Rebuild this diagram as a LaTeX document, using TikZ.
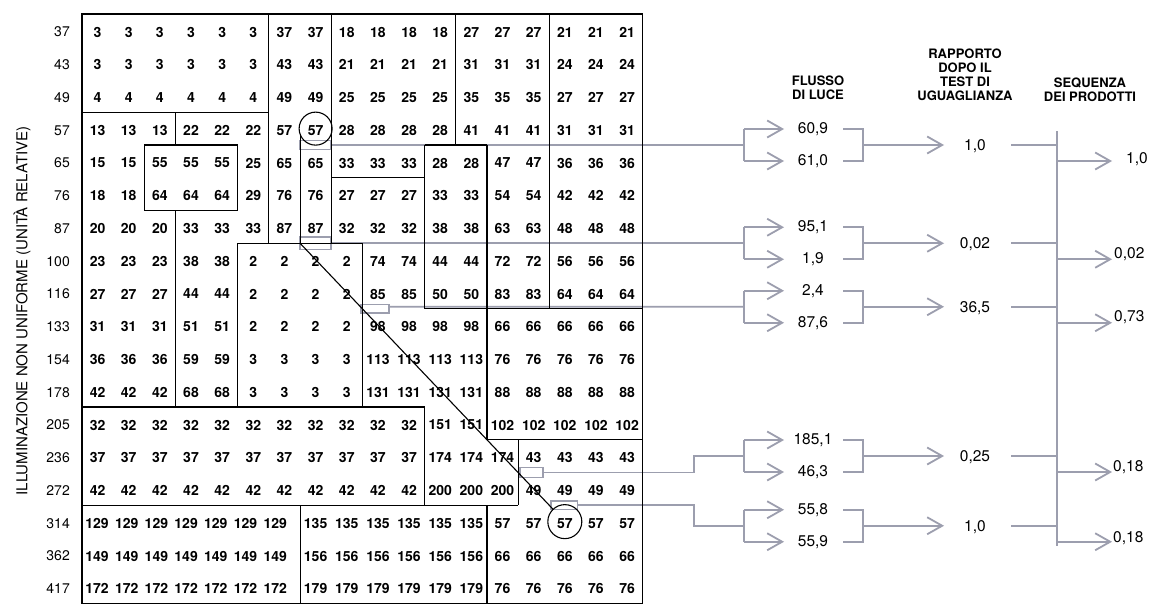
\documentclass[tikz,border=0pt]{standalone}
\usepackage{fontspec}
\setmainfont{TeX Gyre Heros}
\usetikzlibrary{arrows.meta}
\definecolor{probegray}{RGB}{156,158,174}
\begin{document}
\begin{tikzpicture}[x=1pt,y=-1pt,
  num/.style={font=\fontsize{14}{16}\selectfont\bfseries,inner sep=0pt},
  rowlab/.style={font=\fontsize{14}{16}\selectfont,inner sep=0pt,anchor=east},
  flow/.style={font=\fontsize{15.5}{17}\selectfont,inner sep=0pt},
  hdr/.style={font=\fontsize{13}{14}\selectfont\bfseries,align=center,inner sep=0pt},
  ylab/.style={font=\fontsize{15}{17}\selectfont,inner sep=0pt,rotate=90},
  gridline/.style={line width=1.1pt,black},
  probe/.style={draw=probegray,line width=1.5pt},
  gline/.style={draw=probegray,line width=1.8pt},
  garrow/.style={gline,-{Straight Barb[length=15pt,width=17pt]}},
  ring/.style={circle,draw,line width=1.1pt,inner sep=0pt},
]
\useasboundingbox (0,0) rectangle (1158,606);
\fill[white] (0,0) rectangle (1158,606);

% ---------- probes (grid coordinates) ----------
\begin{scope}[shift={(82,14)},x=31.15pt,y=-32.75pt]
  \coordinate (p1) at (8,4);
  \coordinate (p2) at (8,7);
  \coordinate (p3) at (9.85,8.939);
  \coordinate (p4) at (14.8,14);
  \coordinate (p5) at (15.9,15);
  \draw[probe] (7,3.86) rectangle (8,4.14);
  \draw[probe] (7,6.81) rectangle (8,7.19);
  \draw[probe] (8.95,8.87) rectangle (9.85,9.13);
  \draw[probe] (14.06,13.85) rectangle (14.8,14.15);
  \draw[probe] (15.06,14.87) rectangle (15.9,15.13);
\end{scope}

% ---------- flow diagram ----------
\foreach \k/\M/\fa/\fb/\ra/\sq/\sx/\sy in {
  1/145/{60,9}/{61,0}/{1,0}/{1,0}/1126/14,
  2/243.25/{95,1}/{1,9}/{0,02}/{0,02}/1114/11,
  3/306.75/{2,4}/{87,6}/{36,5}/{0,73}/1114/10,
  4/456/{185,1}/{46,3}/{0,25}/{0,18}/1113/11,
  5/525.75/{55,8}/{55,9}/{1,0}/{0,18}/1113/12}{
  \coordinate (b\k) at (744,\M);
  \coordinate (bt\k) at (744,\M-16);
  \coordinate (bb\k) at (744,\M+16);
  \coordinate (at\k) at (784,\M-16);
  \coordinate (ab\k) at (784,\M+16);
  \draw[gline] (bt\k) -- (bb\k);
  \draw[garrow] (bt\k) -- (at\k);
  \draw[garrow] (bb\k) -- (ab\k);
  \node[flow] (fa\k) at (813,\M-16) {\fa};
  \node[flow] (fb\k) at (813,\M+16) {\fb};
  \coordinate (rt\k) at (843,\M-16);
  \coordinate (rb\k) at (843,\M+16);
  \coordinate (rm\k) at (863,\M);
  \draw[gline] (rt\k) -- (rt\k -| rm\k) -- (rb\k -| rm\k) -- (rb\k);
  \coordinate (rr\k) at (944,\M);
  \draw[garrow] (rm\k) -- (rr\k);
  \node[flow] (r\k) at (975,\M+1) {\ra};
  \coordinate (ri\k) at (1011,\M);
  \coordinate (si\k) at (1057,\M);
  \draw[gline] (ri\k) -- (si\k);
  \coordinate (so\k) at (1057,\M+16);
  \coordinate (st\k) at (1112,\M+16);
  \draw[garrow] (so\k) -- (st\k);
  \node[flow,anchor=west] (s\k) at (\sx,\M+\sy) {\sq};
}
\coordinate (sv0) at (1057,131);
\coordinate (sv1) at (1057,546);
\draw[gline] (sv0) -- (sv1);

% tails from probes to the brackets
\coordinate (stepx) at (694,0);
\draw[gline] (p1) -- (b1);
\draw[gline] (p2) -- (b2);
\draw[gline] (p3) -- (b3);
\draw[gline] (p4) -- (p4 -| stepx) -- (b4 -| stepx) -- (b4);
\draw[gline] (p5) -- (p5 -| stepx) -- (b5 -| stepx) -- (b5);

% ---------- table ----------
\begin{scope}[shift={(82,14)},x=31.15pt,y=-32.75pt]
  \foreach \r/\v in {1/37,2/43,3/49,4/57,5/65,6/76,7/87,8/100,9/116,10/133,
      11/154,12/178,13/205,14/236,15/272,16/314,17/362,18/417}
    \node[rowlab] (rl\r) at (-0.385,\r-0.45) {\v};
  \foreach \r/\vals in {
    1/{3,3,3,3,3,3,37,37,18,18,18,18,27,27,27,21,21,21},
    2/{3,3,3,3,3,3,43,43,21,21,21,21,31,31,31,24,24,24},
    3/{4,4,4,4,4,4,49,49,25,25,25,25,35,35,35,27,27,27},
    4/{13,13,13,22,22,22,57,57,28,28,28,28,41,41,41,31,31,31},
    5/{15,15,55,55,55,25,65,65,33,33,33,28,28,47,47,36,36,36},
    6/{18,18,64,64,64,29,76,76,27,27,27,33,33,54,54,42,42,42},
    7/{20,20,20,33,33,33,87,87,32,32,32,38,38,63,63,48,48,48},
    8/{23,23,23,38,38,2,2,2,2,74,74,44,44,72,72,56,56,56},
    9/{27,27,27,44,44,2,2,2,2,85,85,50,50,83,83,64,64,64},
    10/{31,31,31,51,51,2,2,2,2,98,98,98,98,66,66,66,66,66},
    11/{36,36,36,59,59,3,3,3,3,113,113,113,113,76,76,76,76,76},
    12/{42,42,42,68,68,3,3,3,3,131,131,131,131,88,88,88,88,88},
    13/{32,32,32,32,32,32,32,32,32,32,32,151,151,102,102,102,102,102},
    14/{37,37,37,37,37,37,37,37,37,37,37,174,174,174,43,43,43,43},
    15/{42,42,42,42,42,42,42,42,42,42,42,200,200,200,49,49,49,49},
    16/{129,129,129,129,129,129,129,135,135,135,135,135,135,57,57,57,57,57},
    17/{149,149,149,149,149,149,149,156,156,156,156,156,156,66,66,66,66,66},
    18/{172,172,172,172,172,172,172,179,179,179,179,179,179,76,76,76,76,76}}{
    \foreach \v [count=\c] in \vals {
      \pgfmathsetmacro\xx{(\r>15 && \c<8) ? 0.482+0.9535*(\c-1) : \c-0.5}
      \node[num] (n\r-\c) at (\xx,\r-0.45) {\v};
    }
  }
  % frame and region boundaries
  \draw[gridline] (0,0) rectangle (18,18);
  \draw[gridline] (0,3) -- (6,3);
  \draw[gridline] (2,4) rectangle (5,6);
  \draw[gridline] (3,3) -- (3,4);
  \draw[gridline] (3,6) -- (3,12);
  \draw[gridline] (6,0) -- (6,7);
  \draw[gridline] (8,0) -- (8,7);
  \draw[gridline] (12,0) -- (12,4);
  \draw[gridline] (15,0) -- (15,9);
  \draw[gridline] (11,4) -- (13,4);
  \draw[gridline] (8,5) -- (11,5);
  \draw[gridline] (11,4) -- (11,9);
  \draw[gridline] (13,4) -- (13,13);
  \draw[gridline] (5,12) -- (5,7) -- (9,7) -- (9,12);
  \draw[gridline] (11,9) -- (18,9);
  \draw[gridline] (0,12) -- (11,12) -- (11,15);
  \draw[gridline] (13,13) -- (18,13);
  \draw[gridline] (14,13) -- (14,15);
  \draw[gridline] (0,15) -- (14,15);
  \draw[gridline] (7,15) -- (7,18);
  \draw[gridline] (13,15) -- (13,18);
  % path of the test
  \node[ring,minimum size=33pt] (c1) at (7.5,3.5) {};
  \node[ring,minimum size=34pt] (c2) at (15.5,15.5) {};
  \coordinate (nb0) at (7,3.666);
  \coordinate (nb1) at (7,7);
  \draw[gridline] (nb0) -- (nb1);
  \draw[gridline] (nb1) -- (c2);
\end{scope}

% ---------- headings ----------
\node[hdr] (h1) at (818,88) {FLUSSO\\DI LUCE};
\node[hdr] (h2) at (965,75) {RAPPORTO\\DOPO IL\\TEST DI\\UGUAGLIANZA};
\node[hdr] (h3) at (1090,89.5) {SEQUENZA\\DEI PRODOTTI};
\node[ylab] (ylab) at (22,311) {ILLUMINAZIONE NON UNIFORME (UNITÀ RELATIVE)};
\end{tikzpicture}
\end{document}
